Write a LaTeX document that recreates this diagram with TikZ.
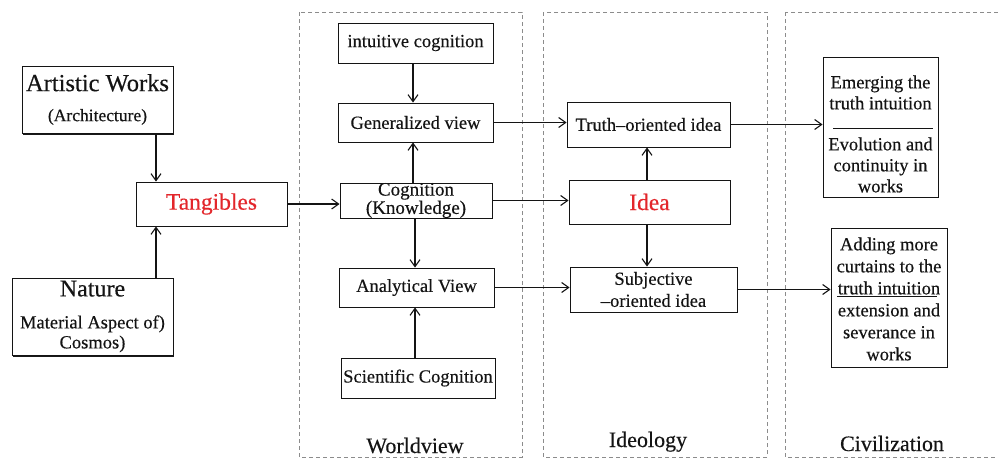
\documentclass[tikz,border=0pt]{standalone}
\usepackage{fontspec}
\setmainfont{Liberation Serif}[FakeBold=0.35]
\usetikzlibrary{arrows.meta,shadows}
\definecolor{redtxt}{HTML}{E3262B}
\definecolor{framegray}{HTML}{8C8C8C}
\definecolor{ink}{HTML}{141414}
\begin{document}
\begin{tikzpicture}[x=1pt,y=-1pt,
  box/.style={draw=ink, line width=0.9pt, fill=white, inner sep=0pt, align=center, text=ink,
    font=\fontsize{18.5}{21}\selectfont},
  shbox/.style={box, drop shadow={shadow xshift=0.8pt, shadow yshift=-2.4pt, opacity=0.9, fill=black}},
  txt/.style={inner sep=0pt, align=center, text=ink, font=\fontsize{18.5}{21}\selectfont},
  arr/.style={draw=ink, -{Straight Barb[length=7pt,width=10pt,line width=1.1pt]}, line width=1.2pt},
  frame/.style={draw=framegray, dash pattern=on 4pt off 3pt, line width=0.9pt},
  lbl/.style={inner sep=0pt, anchor=base, text=ink, font=\fontsize{22}{24}\selectfont},
  sep/.style={draw=ink, line width=0.9pt}]
\clip (0,0) rectangle (998,458);
\fill[white] (0,0) rectangle (998,458);
% frames
\draw[frame] (299,12) rectangle (522,457);
\draw[frame] (543,12) rectangle (767,457);
\draw[frame] (785,12) rectangle (1010,457);
\node[lbl] (lworld) at (415,453) {Worldview};
\node[lbl] (lideo) at (648,447) {Ideology};
\node[lbl] (lciv) at (892,451) {Civilization};
% left column
\node[shbox, minimum width=151pt, minimum height=67pt, font=\fontsize{17.5}{30}\selectfont] (art) at (97.5,99.5)
  {{\fontsize{24.5}{26}\selectfont Artistic Works}\\(Architecture)};
\node[box, minimum width=151pt, minimum height=44pt, text=redtxt, font=\fontsize{23.5}{26}\selectfont] (tang) at (211.5,204) {Tangibles};
\node[shbox, minimum width=161pt, minimum height=77pt, font=\fontsize{18.5}{20}\selectfont] (nat) at (92.5,316.5)
  {{\fontsize{24}{26}\selectfont Nature}\\[12pt]Material Aspect of)\\Cosmos)};
% worldview column
\node[box, minimum width=155pt, minimum height=40pt] (intuit) at (415.5,43) {intuitive cognition};
\node[box, minimum width=155pt, minimum height=39pt] (gen) at (415.5,122.5) {Generalized view};
\node[box, minimum width=152pt, minimum height=35pt, font=\fontsize{19}{17}\selectfont] (cog) at (416,200.5) {Cognition\\(Knowledge)};
\node[box, minimum width=155pt, minimum height=39pt] (anal) at (416.5,287.5) {Analytical View};
\node[box, minimum width=154pt, minimum height=40pt] (sci) at (418,378) {Scientific Cognition};
% ideology column
\node[box, minimum width=163pt, minimum height=45pt] (truth) at (648.5,124.5) {Truth–oriented idea};
\node[box, minimum width=161pt, minimum height=44pt, text=redtxt, font=\fontsize{23.5}{26}\selectfont] (idea) at (649.5,202) {Idea};
\node[box, minimum width=167pt, minimum height=45pt, font=\fontsize{18.5}{22}\selectfont] (subj) at (653.5,289.5) {Subjective\\–oriented idea};
% civilization column
\node[box, minimum width=115pt, minimum height=140pt] (emerge) at (880.5,127) {};
\node[txt] (emergetext) at (880.5,134) {Emerging the\\truth intuition\\[20pt]Evolution and\\continuity in\\works};
\draw[sep] (833,128) -- (933,128);
\node[box, minimum width=116pt, minimum height=139pt] (add) at (889,297.5) {};
\node[txt, font=\fontsize{18.5}{22}\selectfont] (addtext) at (889,299) {Adding more\\curtains to the\\truth intuition\\extension and\\severance in\\works};
\draw[sep] (837,296) -- (937,296);
% connectors
\coordinate (cx1) at (156,0);
\coordinate (cx2) at (413,0);
\coordinate (cx3) at (415,0);
\coordinate (cx4) at (647,0);
\draw[arr] (art.south -| cx1) -- (tang.north -| cx1);
\draw[arr] (nat.north -| cx1) -- (tang.south -| cx1);
\draw[arr] (tang.east) -- (tang.east -| cog.west);
\draw[arr] (intuit.south -| cx2) -- (gen.north -| cx2);
\draw[arr] (cog.north -| cx2) -- (gen.south -| cx2);
\draw[arr] (cog.south -| cx3) -- (anal.north -| cx3);
\draw[arr] (sci.north -| cx3) -- (anal.south -| cx3);
\draw[arr] (gen.east) -- (gen.east -| truth.west);
\draw[arr] (cog.east) -- (cog.east -| idea.west);
\draw[arr] (anal.east) -- (anal.east -| subj.west);
\draw[arr] (idea.north -| cx4) -- (truth.south -| cx4);
\draw[arr] (idea.south -| cx4) -- (subj.north -| cx4);
\draw[arr] (truth.east) -- (truth.east -| emerge.west);
\draw[arr] (subj.east) -- (subj.east -| add.west);
\end{tikzpicture}
\end{document}
